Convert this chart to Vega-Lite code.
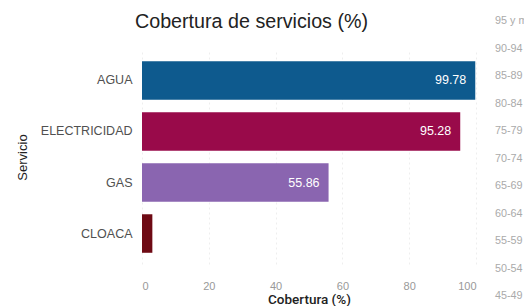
{
  "$schema": "https://vega.github.io/schema/vega-lite/v6.json",
  "background": "white",
  "padding": {"left": 16, "top": 12, "right": 0, "bottom": 0},
  "config": {
    "view": {"stroke": null},
    "font": "Liberation Sans",
    "concat": {"spacing": 4}
  },
  "hconcat": [
    {
      "title": {
        "text": "Cobertura de servicios (%)",
        "fontSize": 19.7,
        "fontWeight": "normal",
        "color": "#222222",
        "anchor": "start",
        "frame": "group",
        "dx": -7,
        "offset": 18
      },
      "width": 334,
      "height": 214,
      "data": {
        "values": [
          {"servicio": "AGUA", "cobertura": 99.78, "etiqueta": "99.78"},
          {"servicio": "ELECTRICIDAD", "cobertura": 95.28, "etiqueta": "95.28"},
          {"servicio": "GAS", "cobertura": 55.86, "etiqueta": "55.86"},
          {"servicio": "CLOACA", "cobertura": 3.1, "etiqueta": ""}
        ]
      },
      "encoding": {
        "y": {
          "field": "servicio",
          "type": "nominal",
          "sort": null,
          "title": "Servicio",
          "scale": {"paddingInner": 0.245, "paddingOuter": 0.22},
          "axis": {
            "domain": false,
            "ticks": false,
            "labelPadding": 10,
            "labelFontSize": 12.5,
            "labelColor": "#505050",
            "titleFontSize": 13,
            "titleFontWeight": "normal",
            "titleColor": "#222222",
            "titlePadding": 11
          }
        },
        "x": {
          "field": "cobertura",
          "type": "quantitative",
          "title": "Cobertura (%)",
          "scale": {"domain": [0, 100], "nice": false},
          "axis": {
            "values": [0, 20, 40, 60, 80, 100],
            "domain": false,
            "ticks": false,
            "labelPadding": 16,
            "labelFontSize": 11,
            "labelColor": "#999999",
            "titleFont": "Roboto",
            "titleFontSize": 13.5,
            "titleFontWeight": 500,
            "titleColor": "#222222",
            "titlePadding": 1,
            "gridColor": "#eeeeee",
            "gridDash": [2, 3]
          }
        }
      },
      "layer": [
        {
          "mark": {"type": "bar"},
          "encoding": {
            "color": {
              "field": "servicio",
              "type": "nominal",
              "legend": null,
              "scale": {
                "domain": ["AGUA", "ELECTRICIDAD", "GAS", "CLOACA"],
                "range": ["#0E5A8E", "#990A4A", "#8A65B0", "#6E0A14"]
              }
            }
          }
        },
        {
          "mark": {"type": "text", "align": "right", "dx": -9, "color": "white", "fontSize": 12.5},
          "encoding": {"text": {"field": "etiqueta"}}
        }
      ]
    },
    {
      "width": 30,
      "height": 214,
      "data": {
        "values": [
          {"grupo": "95 y más"},
          {"grupo": "90-94"},
          {"grupo": "85-89"},
          {"grupo": "80-84"},
          {"grupo": "75-79"},
          {"grupo": "70-74"},
          {"grupo": "65-69"},
          {"grupo": "60-64"},
          {"grupo": "55-59"},
          {"grupo": "50-54"},
          {"grupo": "45-49"}
        ]
      },
      "mark": {"type": "text", "align": "left", "color": "#aaaaaa", "fontSize": 10.8},
      "encoding": {
        "y": {
          "field": "grupo",
          "type": "ordinal",
          "sort": null,
          "axis": null,
          "scale": {"type": "point", "padding": 0, "range": [-29, 246]}
        },
        "text": {"field": "grupo"}
      }
    }
  ]
}
